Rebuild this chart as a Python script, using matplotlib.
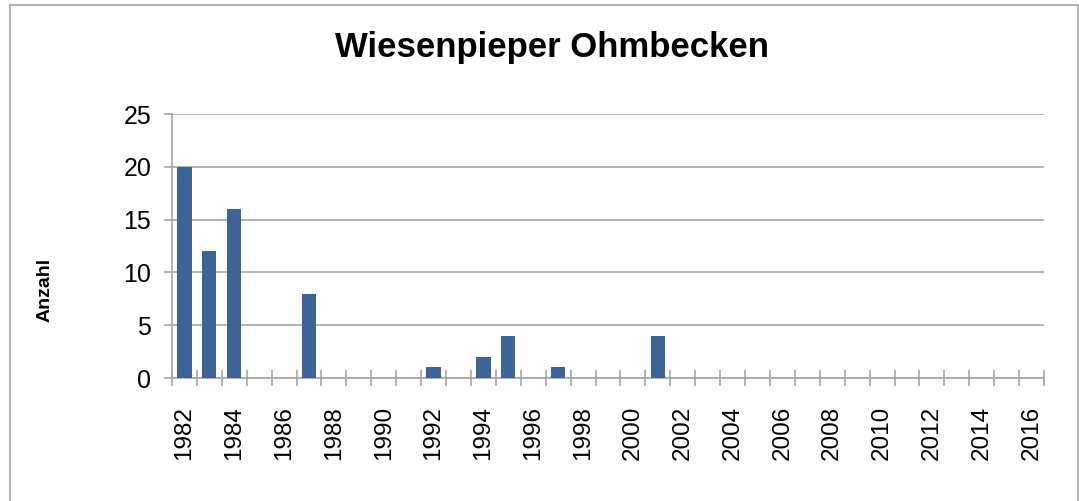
import numpy as np
import matplotlib.pyplot as plt
from matplotlib.patches import Rectangle

plt.rcParams['font.family'] = ['Liberation Sans', 'DejaVu Sans']

### Data
years = list(range(1982, 2017))
counts = {1982: 20, 1983: 12, 1984: 16, 1987: 8, 1992: 1,
          1994: 2, 1995: 4, 1997: 1, 2001: 4}
values = [counts.get(y, 0) for y in years]
y_ticks = [0, 5, 10, 15, 20, 25]

grey = '#A6A6A6'
bar_color = '#3E6495'

fig = plt.figure(figsize=(10.79, 5.01), dpi=100)
ax = fig.add_axes([172 / 1079, 1 - 378 / 501, (1044 - 172) / 1079, (378 - 114) / 501])

x = np.arange(len(years))
ax.bar(x, values, width=0.57, color=bar_color, zorder=3)

ax.set_xlim(-0.5, len(years) - 0.5)
ax.set_ylim(0, 25)
ax.set_yticks(y_ticks)
ax.yaxis.grid(True, color=grey, linewidth=1.2, zorder=0)

# labels every 2 years at category centres, tick marks at category edges
ax.set_xticks(x[::2])
ax.set_xticklabels([str(y) for y in years[::2]], rotation=90)
ax.set_xticks(np.arange(-0.5, len(years)), minor=True)
ax.tick_params(axis='x', which='major', length=0, pad=20, labelsize=17.5)
ax.tick_params(axis='x', which='minor', direction='inout', length=11,
               color=grey, width=1.2)
ax.tick_params(axis='y', length=6, color=grey, width=1.2, pad=9, labelsize=18)

for side in ['top', 'right']:
    ax.spines[side].set_visible(False)
for side in ['left', 'bottom']:
    ax.spines[side].set_color(grey)
    ax.spines[side].set_linewidth(1.2)

fig.text(552 / 1079, 1 - 48 / 501, 'Wiesenpieper Ohmbecken', ha='center',
         va='center', fontsize=25, fontweight='bold')
fig.text(45 / 1079, 1 - 290 / 501, 'Anzahl', rotation=90, ha='center',
         va='center', fontsize=14, fontweight='bold')

# chart border
fig.patches.append(Rectangle((10 / 1079, -0.01), (1078 - 10) / 1079, 1 - 5 / 501 + 0.01,
                             transform=fig.transFigure, fill=False,
                             edgecolor=grey, linewidth=1.2))

fig.savefig('out.png', dpi=100)
